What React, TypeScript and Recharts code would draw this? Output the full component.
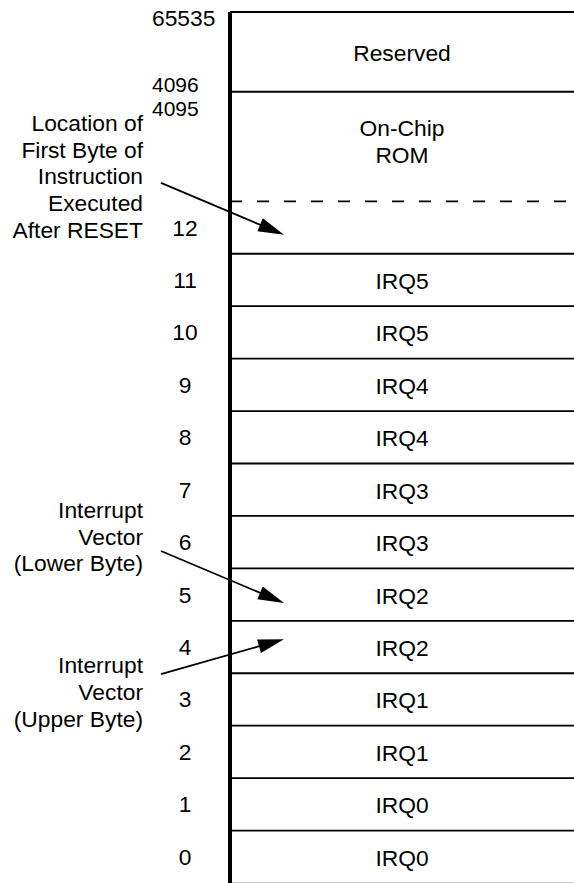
import React from 'react';
import { BarChart, Bar, XAxis, YAxis, ReferenceLine, LabelList } from 'recharts';

const FONT = '"Liberation Sans", Arial, Helvetica, sans-serif';
const FS = 22.8;

// memory regions, bottom to top (size in "rows")
const regionNames = [
  'IRQ0', 'IRQ0', 'IRQ1', 'IRQ1', 'IRQ2', 'IRQ2', 'IRQ3', 'IRQ3',
  'IRQ4', 'IRQ4', 'IRQ5', 'IRQ5', '', 'On-Chip\nROM', 'Reserved',
];
const regionSizes = [1, 1, 1, 1, 1, 1, 1, 1, 1, 1, 1, 1, 1, 2.09, 1.52];
const rowAddresses = ['0', '1', '2', '3', '4', '5', '6', '7', '8', '9', '10', '11', '12'];
const addressTop = '65535';
const addressReserved = '4096';
const addressRomEnd = '4095';

const resetNote = ['Location of', 'First Byte of', 'Instruction', 'Executed', 'After RESET'];
const lowerNote = ['Interrupt', 'Vector', '(Lower Byte)'];
const upperNote = ['Interrupt', 'Vector', '(Upper Byte)'];
const arrowTargets = [12.36, 5.34, 4.65];

const chartData = [
  regionSizes.reduce<Record<string, any>>((acc, v, i) => ({ ...acc, [`r${i}`]: v }), { name: 'map' }),
];
const edges = regionSizes.map((_, i) => regionSizes.slice(0, i + 1).reduce((a, b) => a + b, 0));
const total = edges[edges.length - 1];
const rowCenters = rowAddresses.map((_, i) => edges[i] - regionSizes[i] / 2);

const AddressTick = (props: any) => {
  const { y, index } = props;
  return (
    <text x={185} y={y} textAnchor="middle" dominantBaseline="central" fontFamily={FONT} fontSize={FS} fill="#000">
      {rowAddresses[index]}
    </text>
  );
};

const regionLabel = (name: string) => (props: any) => {
  const { x, y, width, height } = props;
  if (!name) return null;
  const lines = name.split('\n');
  const cx = x + width / 2;
  const cy = y + height / 2 + (lines.length > 1 ? -5 : 1);
  return (
    <g>
      {lines.map((l, i) => (
        <text key={i} x={cx} y={cy + (i - (lines.length - 1) / 2) * 27} textAnchor="middle"
          dominantBaseline="central" fontFamily={FONT} fontSize={FS} fill="#000">
          {l}
        </text>
      ))}
    </g>
  );
};

const addressLabels = (items: { text: string; dy: number }[], size = FS) => (props: any) => {
  const y = props.y1;
  return (
    <g>
      <line x1={props.x1} y1={y} x2={props.x2} y2={y} stroke="#000" strokeWidth={2} />
      {items.map((it, i) => (
        <text key={i} x={152} y={y + it.dy} dominantBaseline="central" fontFamily={FONT} fontSize={size} fill="#000">
          {it.text}
        </text>
      ))}
    </g>
  );
};

const arrowNote = (lines: string[], tailDy: number, textDy: number) => (props: any) => {
  const y = props.y1;
  const tipX = props.x1 + 54;
  const tailX = 161;
  const tailY = y + tailDy;
  const ang = Math.atan2(y - tailY, tipX - tailX);
  const c = Math.cos(ang);
  const s = Math.sin(ang);
  const L = 26;
  const W = 7;
  const bx = tipX - L * c;
  const by = y - L * s;
  return (
    <g>
      <line x1={tailX} y1={tailY} x2={bx + 2 * c} y2={by + 2 * s} stroke="#000" strokeWidth={1.8} />
      <polygon
        points={`${tipX},${y} ${bx - W * s},${by + W * c} ${bx + W * s},${by - W * c}`}
        fill="#000"
      />
      {lines.map((l, i) => (
        <text key={i} x={143} y={y + textDy + i * 26.75} textAnchor="end" dominantBaseline="central"
          fontFamily={FONT} fontSize={FS} fill="#000">
          {l}
        </text>
      ))}
    </g>
  );
};

export default function App() {
  return (
    <div style={{ position: 'absolute', left: 0, top: 0, width: 574, height: 883, background: '#fff' }}>
      <BarChart
        width={574}
        height={883}
        data={chartData}
        margin={{ top: 12, right: 0, bottom: 0, left: 0 }}
        barCategoryGap={0}
      >
        <XAxis dataKey="name" hide />
        <YAxis
          type="number"
          domain={[0, total]}
          allowDataOverflow
          ticks={rowCenters}
          interval={0}
          width={230}
          tickLine={false}
          axisLine={{ stroke: '#000', strokeWidth: 4 }}
          tick={<AddressTick />}
        />
        {regionSizes.map((_, i) => (
          <Bar key={i} dataKey={`r${i}`} stackId="mem" fill="#fff" isAnimationActive={false}>
            <LabelList dataKey={`r${i}`} content={regionLabel(regionNames[i])} />
          </Bar>
        ))}
        <ReferenceLine y={0} stroke="#bbb" strokeWidth={1.5} />
        {edges.slice(0, 12).map((e, i) => (
          <ReferenceLine key={`e${i}`} y={e} stroke="#000" strokeWidth={1.8} />
        ))}
        <ReferenceLine y={edges[12]} stroke="#000" strokeWidth={1.8} strokeDasharray="12 15" />
        <ReferenceLine
          y={edges[13]}
          shape={addressLabels(
            [
              { text: addressReserved, dy: -7 },
              { text: addressRomEnd, dy: 17 },
            ],
            21
          )}
        />
        <ReferenceLine y={total} shape={addressLabels([{ text: addressTop, dy: 6 }])} />
        <ReferenceLine y={arrowTargets[0]} shape={arrowNote(resetNote, -52, -112)} />
        <ReferenceLine y={arrowTargets[1]} shape={arrowNote(lowerNote, -52, -93)} />
        <ReferenceLine y={arrowTargets[2]} shape={arrowNote(upperNote, 35, 26)} />
      </BarChart>
    </div>
  );
}
